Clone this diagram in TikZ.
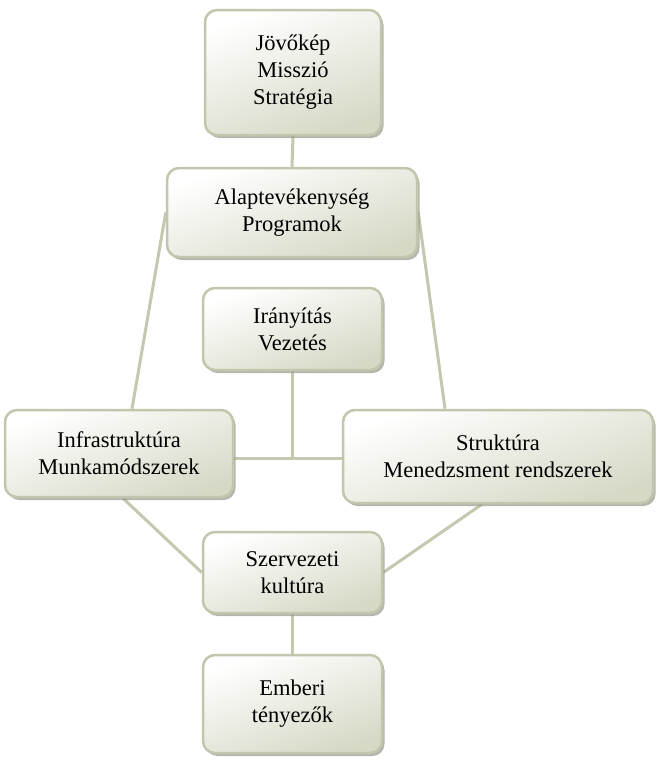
\documentclass[tikz,border=0pt]{standalone}
\usepackage{fontspec}
\setmainfont{Liberation Serif}
\usetikzlibrary{shadows,backgrounds}
\definecolor{boxborder}{RGB}{194,198,172}
\definecolor{boxdark}{RGB}{214,217,198}
\definecolor{linkcol}{RGB}{196,200,174}
\definecolor{shadowcol}{RGB}{150,150,140}
\begin{document}
\begin{tikzpicture}[x=1pt,y=-1pt,
  box/.style={draw=boxborder, line width=2.5pt, rounded corners=12pt,
    top color=white, bottom color=boxdark, shading angle=20,
    drop shadow={shadow xshift=2.5pt, shadow yshift=-3pt, fill=shadowcol, opacity=0.7},
    align=center, font=\fontsize{22.5}{27}\selectfont, inner sep=2pt},
  link/.style={draw=linkcol, line width=3pt}]
\useasboundingbox (0,0) rectangle (657,761);
\node[box, minimum width=176pt, minimum height=125pt] (b1) at (293,72.5) {Jövőkép\\Misszió\\Stratégia};
\node[box, minimum width=250pt, minimum height=89pt] (b2) at (292,212.5) {Alaptevékenység\\Programok};
\node[box, minimum width=179pt, minimum height=82pt] (b3) at (292.5,329) {Irányítás\\Vezetés};
\node[box, minimum width=228pt, minimum height=87pt] (b4) at (119,453.5) {Infrastruktúra\\Munkamódszerek};
\node[box, minimum width=310pt, minimum height=93pt] (b5) at (498,456.5) {Struktúra\\Menedzsment rendszerek};
\node[box, minimum width=179pt, minimum height=81pt] (b6) at (292.5,572.5) {Szervezeti\\kultúra};
\node[box, minimum width=179pt, minimum height=98pt] (b7) at (292.5,704) {Emberi\\tényezők};
\begin{scope}[on background layer]
\draw[link] (b1.south) -- (b2.north);
\draw[link] (b2.west) -- ([xshift=13pt]b4.north);
\draw[link] (b2.east) -- ([xshift=-53pt]b5.north);
\draw[link] (b4.east |- 0,458) coordinate (h1) -- (h1 -| b5.west);
\draw[link] (b3.south) -- (b3.south |- h1);
\draw[link] ([xshift=4pt]b4.south) -- (b6.west);
\draw[link] ([xshift=-16pt]b5.south) -- (b6.east);
\draw[link] (b6.south) -- (b7.north);
\end{scope}
\end{tikzpicture}
\end{document}
